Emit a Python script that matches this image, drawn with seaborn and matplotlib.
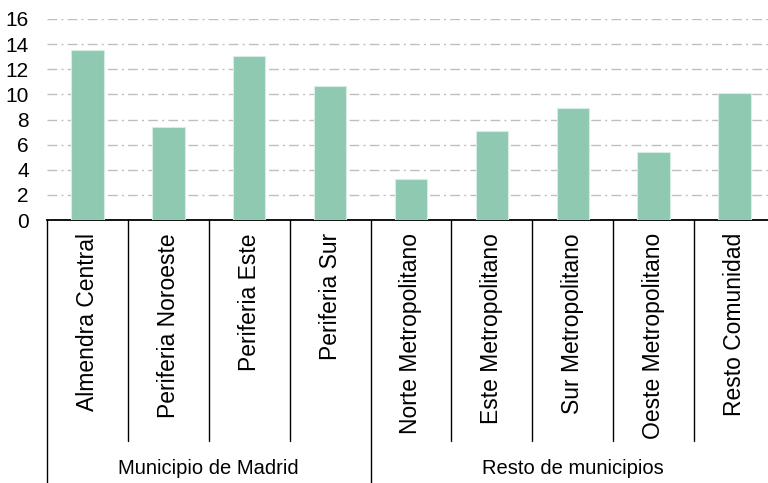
import pandas as pd
import numpy as np
import matplotlib.pyplot as plt
import seaborn as sns

categorias = ["Almendra Central", "Periferia Noroeste", "Periferia Este", "Periferia Sur",
              "Norte Metropolitano", "Este Metropolitano", "Sur Metropolitano",
              "Oeste Metropolitano", "Resto Comunidad"]
valores = [13.5, 7.4, 13.05, 10.65, 3.3, 7.05, 8.95, 5.45, 10.1]
grupos = ["Municipio de Madrid", "Resto de municipios"]
n_por_grupo = [4, 5]
y_ticks = [0, 2, 4, 6, 8, 10, 12, 14, 16]

df = pd.DataFrame({"zona": categorias, "valor": valores})

sns.set_style("white")
plt.rcParams['font.family'] = ['Liberation Sans', 'DejaVu Sans']
plt.rcParams['text.color'] = 'black'
plt.rcParams['ytick.color'] = 'black'

fig = plt.figure(figsize=(7.68, 4.83), dpi=100)
ax = fig.add_axes([47/768, 263/483, 728/768, 201/483])

sns.barplot(data=df, x="zona", y="valor", color="#90C9B1", width=0.4,
            edgecolor="#D6EDE3", linewidth=0.8, saturation=1, ax=ax, zorder=3)

ax.set_ylim(0, 16)
ax.set_xlim(-0.5, len(categorias) - 0.5)
ax.set_yticks(y_ticks)
ax.set_yticklabels([str(t) for t in y_ticks], fontsize=15, color="black")
ax.tick_params(axis="y", length=0, pad=13)
ax.set_xticks([])
ax.set_xlabel("")
ax.set_ylabel("")

for t in y_ticks[1:]:
    ax.axhline(t, color="#BFBFBF", lw=1.0, ls=(0, (7, 3, 1.5, 3)), zorder=1)

for s in ["left", "right", "top"]:
    ax.spines[s].set_visible(False)
ax.spines["bottom"].set_color("black")
ax.spines["bottom"].set_linewidth(1.3)

trans = ax.get_xaxis_transform()

# etiquetas de categoria
for i, c in enumerate(categorias):
    ax.text(i, -0.065, c, rotation=90, ha="center", va="top", fontsize=16.5,
            color="black", transform=trans)

# separadores
limites = np.cumsum([0] + n_por_grupo) - 0.5
for i in range(len(categorias) + 1):
    x = i - 0.5
    bajo = -1.31 if x in limites else -1.10
    ax.plot([x, x], [0, bajo], color="black", lw=1.0, transform=trans, clip_on=False)

# etiquetas de grupo
inicio = 0
for g, n in zip(grupos, n_por_grupo):
    centro = inicio + (n - 1) / 2
    ax.text(centro, -1.235, g, ha="center", va="center", fontsize=14.5,
            color="black", transform=trans)
    inicio += n

fig.savefig("out.png", dpi=100)
